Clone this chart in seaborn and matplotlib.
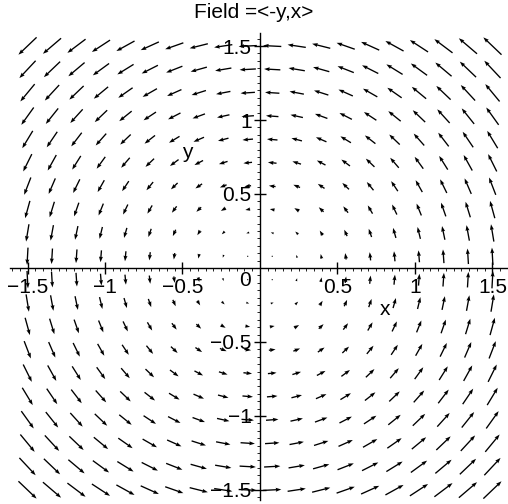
import numpy as np
import matplotlib
matplotlib.use("Agg")
import matplotlib.pyplot as plt
import seaborn as sns
from matplotlib.ticker import MultipleLocator

sns.set_theme(style="white")
plt.rcParams["font.family"] = ["Liberation Sans", "DejaVu Sans"]

# Sample points of the field plot (20 x 20 grid over [-1.5, 1.5])
grid_x = [-1.5, -1.342, -1.184, -1.026, -0.868, -0.711, -0.553, -0.395, -0.237, -0.079,
          0.079, 0.237, 0.395, 0.553, 0.711, 0.868, 1.026, 1.184, 1.342, 1.5]
grid_y = [-1.5, -1.342, -1.184, -1.026, -0.868, -0.711, -0.553, -0.395, -0.237, -0.079,
          0.079, 0.237, 0.395, 0.553, 0.711, 0.868, 1.026, 1.184, 1.342, 1.5]

tick_vals = [-1.5, -1, -0.5, 0.5, 1, 1.5]
tick_text = ["\u22121.5", "\u22121", "\u22120.5", "0.5", "1", "1.5"]
title = "Field =<-y,x>"

X, Y = np.meshgrid(np.array(grid_x), np.array(grid_y))
U = -Y  # field <-y, x>
V = X

fig = plt.figure(figsize=(5.08, 5.04), dpi=100)
ax = fig.add_axes([10 / 508, 4 / 504, 497 / 508, 467 / 504])
ax.set_facecolor("white")

ax.quiver(X, Y, U, V, pivot="middle", angles="xy", scale_units="xy", scale=12.8,
          color="black", width=0.0027, headwidth=3.0, headlength=4.2, headaxislength=3.8)

ax.set_xlim(-1.613, 1.594)
ax.set_ylim(-1.568, 1.588)

for side in ("top", "right"):
    ax.spines[side].set_visible(False)
for side in ("left", "bottom"):
    ax.spines[side].set_position(("data", 0))
    ax.spines[side].set_color("black")
    ax.spines[side].set_linewidth(1.0)
    ax.spines[side].set_zorder(1)

fs = 15
ax.set_xticks(tick_vals)
ax.set_xticklabels(tick_text, fontsize=fs)
ax.set_yticks(tick_vals)
ax.set_yticklabels(tick_text, fontsize=fs)
ax.xaxis.set_minor_locator(MultipleLocator(0.05))
ax.yaxis.set_minor_locator(MultipleLocator(0.05))
ax.tick_params(which="major", direction="inout", length=8, width=1.0, color="black",
               labelcolor="black", pad=3, bottom=True, left=True)
ax.tick_params(which="minor", direction="out", length=2, width=0.6, color="black",
               bottom=True, left=True)
ax.tick_params(axis="y", which="major", pad=2)
for lbl in ax.get_xticklabels() + ax.get_yticklabels():
    lbl.set_zorder(5)

ax.text(-0.06, -0.02, "0", fontsize=fs, ha="right", va="top", color="black")
ax.text(0.81, -0.28, "x", fontsize=fs, ha="center", va="center", color="black")
ax.text(-0.47, 0.78, "y", fontsize=fs, ha="center", va="center", color="black")

fig.text(0.5, 1 - 13 / 504, title, fontsize=fs, ha="center", va="center", color="black")

fig.savefig("out.png", dpi=100, facecolor="white")
